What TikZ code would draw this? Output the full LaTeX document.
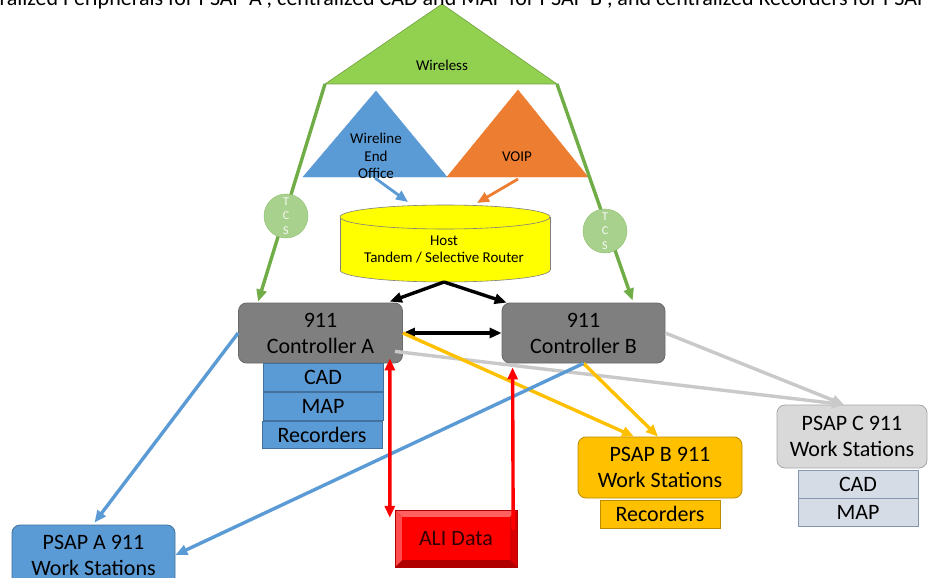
\documentclass[tikz,border=0pt]{standalone}
\usepackage{fontspec}
\setmainfont{Carlito}
\usetikzlibrary{arrows.meta,calc}

\definecolor{wlgreen}{HTML}{92D050}
\definecolor{wledge}{HTML}{70A040}
\definecolor{lngreen}{HTML}{70AD47}
\definecolor{tcsfill}{HTML}{A9D18E}
\definecolor{tcsedge}{HTML}{8CBF6E}
\definecolor{msblue}{HTML}{5B9BD5}
\definecolor{msblueedge}{HTML}{41719C}
\definecolor{msorange}{HTML}{ED7D31}
\definecolor{cylyellow}{HTML}{FFFF00}
\definecolor{ctrlgray}{HTML}{7F7F7F}
\definecolor{ctrledge}{HTML}{6A6A6A}
\definecolor{msgold}{HTML}{FFC000}
\definecolor{msgoldedge}{HTML}{BC8C00}
\definecolor{lgray}{HTML}{D9D9D9}
\definecolor{lgrayedge}{HTML}{A6A6A6}
\definecolor{linegray}{HTML}{C9C9C9}
\definecolor{slate}{HTML}{D6DCE5}
\definecolor{slateedge}{HTML}{8497B0}
\definecolor{alired}{HTML}{FF0000}
\definecolor{alidark}{HTML}{B00000}
\definecolor{alimid}{HTML}{D80000}
\definecolor{alilight}{HTML}{FF6060}

\newcommand{\bigtxt}{\fontsize{22}{26}\selectfont}
\newcommand{\smalltxt}{\fontsize{15}{17.5}\selectfont}

\begin{document}
\begin{tikzpicture}[x=1pt,y=-1pt,
  tip/.style={-{Triangle[length=12pt,width=10pt]}},
  dtip/.style={{Triangle[length=12pt,width=10pt]}-{Triangle[length=12pt,width=10pt]}},
  conn/.style={line width=3.4pt},
  ctrlbox/.style={draw=ctrledge, fill=ctrlgray, rounded corners=8pt, line width=0.8pt,
    minimum width=164pt, minimum height=60pt, align=center, font=\bigtxt, inner sep=0pt},
  periA/.style={draw=msblueedge, fill=msblue, minimum width=120pt, minimum height=28pt,
    font=\bigtxt, inner sep=0pt, line width=0.8pt},
  psapbox/.style={rounded corners=8pt, line width=0.8pt, align=center, font=\bigtxt,
    inner sep=0pt},
  periC/.style={draw=slateedge, fill=slate, minimum width=120pt, minimum height=28pt,
    font=\bigtxt, inner sep=0pt, line width=0.8pt},
  tcs/.style={circle, draw=tcsedge, fill=tcsfill, minimum size=44pt, inner sep=0pt,
    align=center, text=white!90!tcsfill, font=\fontsize{12}{14.5}\selectfont},
  lbl/.style={font=\smalltxt, align=center, inner sep=0pt}
]
\useasboundingbox (0,0) rectangle (930,578);
\clip (0,0) rectangle (930,578);
\fill[white] (0,0) rectangle (930,578);

% --- source networks --------------------------------------------------
\coordinate (wlL) at (325,84);
\coordinate (wlR) at (557,84);
\filldraw[fill=wlgreen, draw=wledge, line width=0.6pt] (442,4) -- (wlR) -- (wlL) -- cycle;
\node[lbl] (wireless) at (442,65) {Wireless};

\filldraw[fill=msblue, draw=msblue] (376,91) -- (447,177) -- (303,177) -- cycle;
\filldraw[fill=msorange, draw=msorange] (518,90) -- (588,177) -- (447,177) -- cycle;
\node[lbl] (wireline) at (376,156) {Wireline\\End\\Office};
\node[lbl] (voip) at (517,157) {VOIP};

% caption line running off the top edge
\node[anchor=base west, inner sep=0pt, font=\bigtxt] (caption) at (-42,6)
  {Centralized Peripherals for PSAP A , centralized CAD and MAP for PSAP B , and centralized Recorders for PSAP C};

% --- host tandem / selective router (cylinder) ------------------------
\filldraw[fill=cylyellow, draw=ctrlgray, line width=0.6pt] (445,270) ellipse [x radius=105, y radius=12];
\fill[cylyellow] (340,217) rectangle (550,270);
\draw[ctrlgray, line width=0.6pt] (340,217) -- (340,270) (550,217) -- (550,270);
\filldraw[fill=cylyellow, draw=ctrlgray, line width=0.6pt] (445,217) ellipse [x radius=105, y radius=12];
\node[lbl] (host) at (444,249.5) {Host\\Tandem / Selective Router};
\coordinate (hostbot) at (444,282);
\coordinate (hosttopL) at (408,202);
\coordinate (hosttopR) at (477,203);

\coordinate (wlout) at (375,178);
\coordinate (voipout) at (518,179);
\draw[conn, line width=2.8pt, msblue, tip] (wlout) -- (hosttopL);
\draw[conn, line width=2.8pt, msorange, tip] (voipout) -- (hosttopR);

% --- controllers --------------------------------------------------------
\node[ctrlbox] (ctrlA) at (320.5,333) {911\\Controller A};
\node[ctrlbox, minimum width=163pt] (ctrlB) at (583.5,333) {911\\Controller B};

\node[periA] (cadA) at (323,377) {CAD};
\node[periA] (mapA) at (323,406) {MAP};
\node[periA, minimum height=27pt] (recA) at (322,434.5) {Recorders};

% --- PSAPs --------------------------------------------------------------
\node[psapbox, draw=msblueedge, fill=msblue, minimum width=163pt, minimum height=60pt]
  (psapA) at (93.5,555) {PSAP A 911\\Work Stations};
\node[psapbox, draw=msgoldedge, fill=msgold, minimum width=164pt, minimum height=61pt]
  (psapB) at (660,467.5) {PSAP B 911\\Work Stations};
\node[draw=msgoldedge, fill=msgold, minimum width=120pt, minimum height=28pt,
  font=\bigtxt, inner sep=0pt, line width=0.8pt] (recB) at (660,514) {Recorders};
\node[psapbox, draw=lgrayedge, fill=lgray, minimum width=150pt, minimum height=63pt]
  (psapC) at (852,436.5) {PSAP C 911\\Work Stations};
\node[periC] (cadC) at (858,484) {CAD};
\node[periC] (mapC) at (858,512) {MAP};

% --- ALI data (bevelled button) --------------------------------------
\node[minimum width=122pt, minimum height=57pt, inner sep=0pt] (ali) at (456,538.5) {};
\fill[alidark] (395,510) rectangle (517,567);
\fill[alilight] (395,510) -- (517,510) -- (510,517) -- (402,517) -- cycle;
\fill[alilight!80!alired] (395,510) -- (402,517) -- (402,560) -- (395,567) -- cycle;
\fill[alimid] (517,510) -- (517,567) -- (510,560) -- (510,517) -- cycle;
\fill[alired] (402,517) rectangle (510,560);
\draw[alidark, line width=0.6pt] (395,510) rectangle (517,567);
\node[font=\bigtxt, text=black!80!alired, inner sep=0pt] (alitext) at (ali.center) {ALI Data};

% --- connectors ---------------------------------------------------------
% wireless feeds through the TCS nodes
\draw[conn, lngreen, tip] (wlL) -- ($(ctrlA.north west)+(20,-1)$);
\draw[conn, lngreen, tip] (wlR) -- ($(ctrlB.north west)+(131,-2)$);
\node[tcs] (tcsA) at (286,216) {T\\C\\S};
\node[tcs] (tcsB) at (605,231) {T\\C\\S};

% host to controllers
\draw[conn, black, tip] (hostbot) -- ($(ctrlA.north east)+(-13,-1)$);
\draw[conn, black, tip] (hostbot) -- ($(ctrlB.north west)+(5,0)$);
\draw[conn, black, dtip] (ctrlA.east) -- (ctrlB.west);

% gray links to PSAP C
\draw[conn, linegray, tip] ($(ctrlA.south east)+(-8,-12)$) -- ($(psapC.north)+(-8,0)$);
\draw[conn, linegray, tip] (ctrlB.east) -- ($(psapC.north)+(-8,0)$);

% yellow links to PSAP B
\draw[conn, msgold, tip] (ctrlA.east) -- ($(psapB.north)+(-26,0)$);
\draw[conn, msgold, tip] (ctrlB.south) -- ($(psapB.north)+(-2,0)$);

% blue links to PSAP A
\draw[conn, msblue, tip] (ctrlA.west) -- ($(psapA.north)+(1,-2)$);
\draw[conn, msblue, tip] (ctrlB.south) -- (psapA.east);

% ALI data links
\draw[conn, alired, dtip] ($(ctrlA.south east)+(-13,-5)$) -- ($(ali.north west)+(-5,8)$);
\draw[conn, alired, tip] ($(ali.north east)+(-4,20)$) -- ($(ctrlB.south west)+(11,4)$);
\end{tikzpicture}
\end{document}
